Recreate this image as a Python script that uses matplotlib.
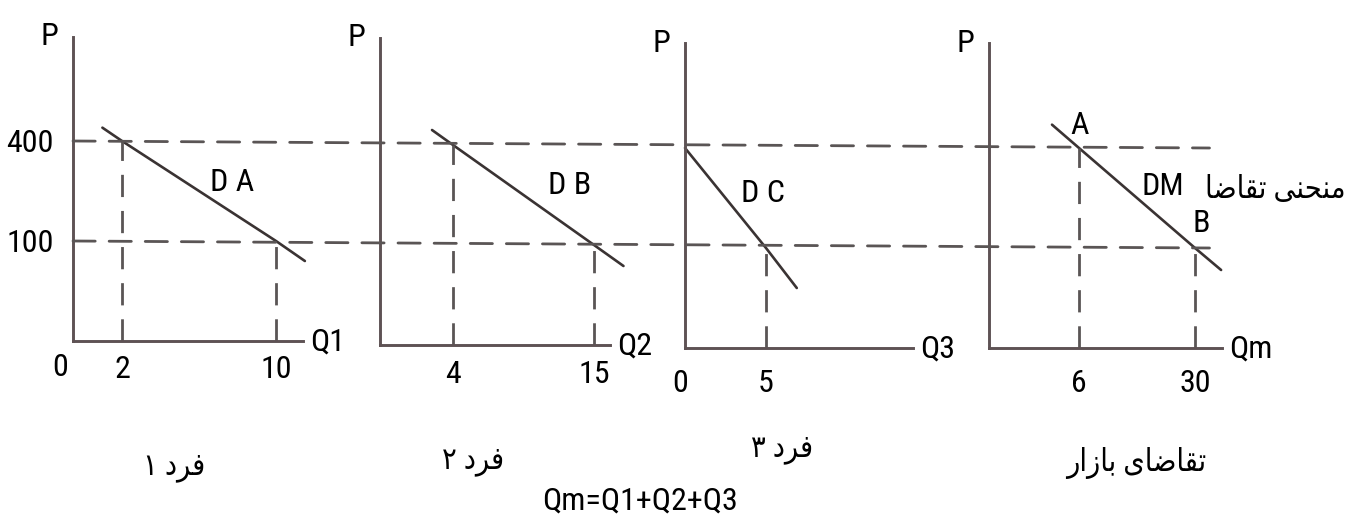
import numpy as np
import matplotlib.pyplot as plt
from matplotlib.patches import ConnectionPatch

plt.rcParams['font.family'] = ['Roboto Condensed', 'Liberation Sans', 'DejaVu Sans']
plt.rcParams['font.stretch'] = 'condensed'

# price levels shared by all panels
p_levels = [400, 100]

# quantity demanded at each price: person 1, person 2, person 3, market
q_at_400 = [2, 4, 0, 6]
q_at_100 = [10, 15, 5, 30]
q_names = ['Q1', 'Q2', 'Q3', 'Qm']
curve_names = ['D A', 'D B', 'D C', 'DM']
x_ticks = [[2, 10], [4, 15], [5], [6, 30]]

# where each drawn demand line starts and stops
line_start_q = [1.2, 2.85, 0, 4.2]
line_start_p = [440, 445, 400, 470]
line_end_q = [11.5, 17.3, 6.9, 35.4]
line_end_p = [80, 79, 60, 78]

# persian labels, letters already in joined visual order
fard = '\uFEA9\uFEAE\uFED3'
person_labels = ['\u06F1 ' + fard, '\u06F2 ' + fard, '\u06F3 ' + fard,
                 '\uFEAD\uFE8D\uFEAF\uFE8E\uFE91 \uFEEF\uFE8E\uFEBF\uFE8E\uFED8\uFE97']
curve_text = '\uFE8E\uFEBF\uFE8E\uFED8\uFE97 \uFEF0\uFEE8\uFEA4\uFEE8\uFEE3'
formula = 'Qm=Q1+Q2+Q3'

# ---- layout (pixels) ----
W, H = 1347, 517
boxes = [(73, 341, 230, 304), (380, 345, 230, 307), (685, 348, 228, 305), (989, 348, 233, 305)]
x_breaks = [([0, 2, 10], [0, 49, 203]), ([0, 4, 15], [0, 73, 214]),
            ([0, 5], [0, 81]), ([0, 6, 30], [0, 90, 206])]
y_breaks = ([0, 100, 400], [0, 100, 200])
tick_pad = [10, 11, 15, 15]
label_pos = [(0.69, 0.52), (0.826, 0.521), (0.342, 0.508), (0.747, 0.528)]
person_xy = [(174, 468), (473, 461), (782, 450), (1136, 463)]
fs = 23

axis_col = '#5e5254'
line_col = '#3a3333'
dash_col = '#5a5555'
dash = (0, (8, 5))


def piecewise(src, dst):
    src = np.asarray(src, float)
    dst = np.asarray(dst, float)
    s_lo = (dst[1] - dst[0]) / (src[1] - src[0])
    s_hi = (dst[-1] - dst[-2]) / (src[-1] - src[-2])

    def fwd(v):
        v = np.asarray(v, float)
        return np.where(v < src[0], dst[0] + (v - src[0]) * s_lo,
                        np.where(v > src[-1], dst[-1] + (v - src[-1]) * s_hi,
                                 np.interp(v, src, dst)))

    def inv(v):
        v = np.asarray(v, float)
        return np.where(v < dst[0], src[0] + (v - dst[0]) / s_lo,
                        np.where(v > dst[-1], src[-1] + (v - dst[-1]) / s_hi,
                                 np.interp(v, dst, src)))
    return fwd, inv


fig = plt.figure(figsize=(W / 100, H / 100), dpi=100)
axes = []

for i in range(4):
    left, bottom, w, h = boxes[i]
    ax = fig.add_axes([left / W, (H - bottom) / H, w / W, h / H])
    fx, ix = piecewise(*x_breaks[i])
    fy, iy = piecewise(*y_breaks)
    ax.set_xscale('function', functions=(fx, ix))
    ax.set_yscale('function', functions=(fy, iy))
    ax.set_xlim(0, float(ix(w)))
    ax.set_ylim(0, float(iy(h)))
    ax.patch.set_alpha(0)

    for s in ['top', 'right']:
        ax.spines[s].set_visible(False)
    for s in ['left', 'bottom']:
        ax.spines[s].set_color(axis_col)
        ax.spines[s].set_linewidth(2.1)

    ax.set_xticks(x_ticks[i])
    ax.set_xticklabels([str(t) for t in x_ticks[i]], fontsize=fs)
    ax.xaxis.set_minor_locator(plt.NullLocator())
    ax.yaxis.set_minor_locator(plt.NullLocator())
    if i == 0:
        ax.set_yticks(p_levels)
        ax.set_yticklabels([str(p) for p in p_levels], fontsize=fs)
    else:
        ax.set_yticks([])
    ax.tick_params(axis='x', length=0, pad=tick_pad[i])
    ax.tick_params(axis='y', length=0, pad=14)

    # demand line
    qs = [line_start_q[i], q_at_400[i], q_at_100[i], line_end_q[i]]
    ps = [line_start_p[i], 400, 100, line_end_p[i]]
    ax.plot(qs, ps, color=line_col, lw=1.9, clip_on=False, solid_capstyle='round')

    # dashed drops to the quantity axis
    for q, p in zip([q_at_400[i], q_at_100[i]], p_levels):
        if q > 0:
            ax.plot([q, q], [0, p], color=dash_col, lw=2.0, linestyle=dash, clip_on=False)

    ax.annotate('P', xy=(0, 1), xycoords='axes fraction', xytext=(-24, 0),
                textcoords='offset pixels', ha='center', va='center', fontsize=fs)
    ax.annotate(q_names[i], xy=(1, 0), xycoords='axes fraction', xytext=(7, -1),
                textcoords='offset pixels', ha='left', va='center', fontsize=fs)
    ax.text(label_pos[i][0], label_pos[i][1], curve_names[i], transform=ax.transAxes,
            ha='center', va='center', fontsize=fs)
    axes.append(ax)

# zero at the origin of panels 1 and 3
axes[0].annotate('0', xy=(0, 0), xycoords='axes fraction', xytext=(-13, -27),
                 textcoords='offset pixels', ha='center', va='center', fontsize=fs)
axes[2].annotate('0', xy=(0, 0), xycoords='axes fraction', xytext=(-5, -35),
                 textcoords='offset pixels', ha='center', va='center', fontsize=fs)

# points A and B on the market curve
axes[3].annotate('A', xy=(q_at_400[3], 400), xytext=(1, 22), textcoords='offset pixels',
                 ha='center', va='center', fontsize=fs)
axes[3].annotate('B', xy=(q_at_100[3], 100), xytext=(6, 24), textcoords='offset pixels',
                 ha='center', va='center', fontsize=fs)

# price lines running across all four panels
for p in p_levels:
    con = ConnectionPatch(xyA=(0, p), coordsA=axes[0].transData,
                          xyB=(33, p), coordsB=axes[3].transData,
                          color=dash_col, lw=2.0, linestyle=dash)
    fig.add_artist(con)

fig.text(1275 / W, 1 - 190 / H, curve_text, ha='center', va='center', fontsize=22)
for (x, y), lab in zip(person_xy, person_labels):
    fig.text(x / W, 1 - y / H, lab, ha='center', va='center', fontsize=22)
fig.text(640 / W, 1 - 501 / H, formula, ha='center', va='center', fontsize=fs)

fig.savefig('out.png', dpi=100)
